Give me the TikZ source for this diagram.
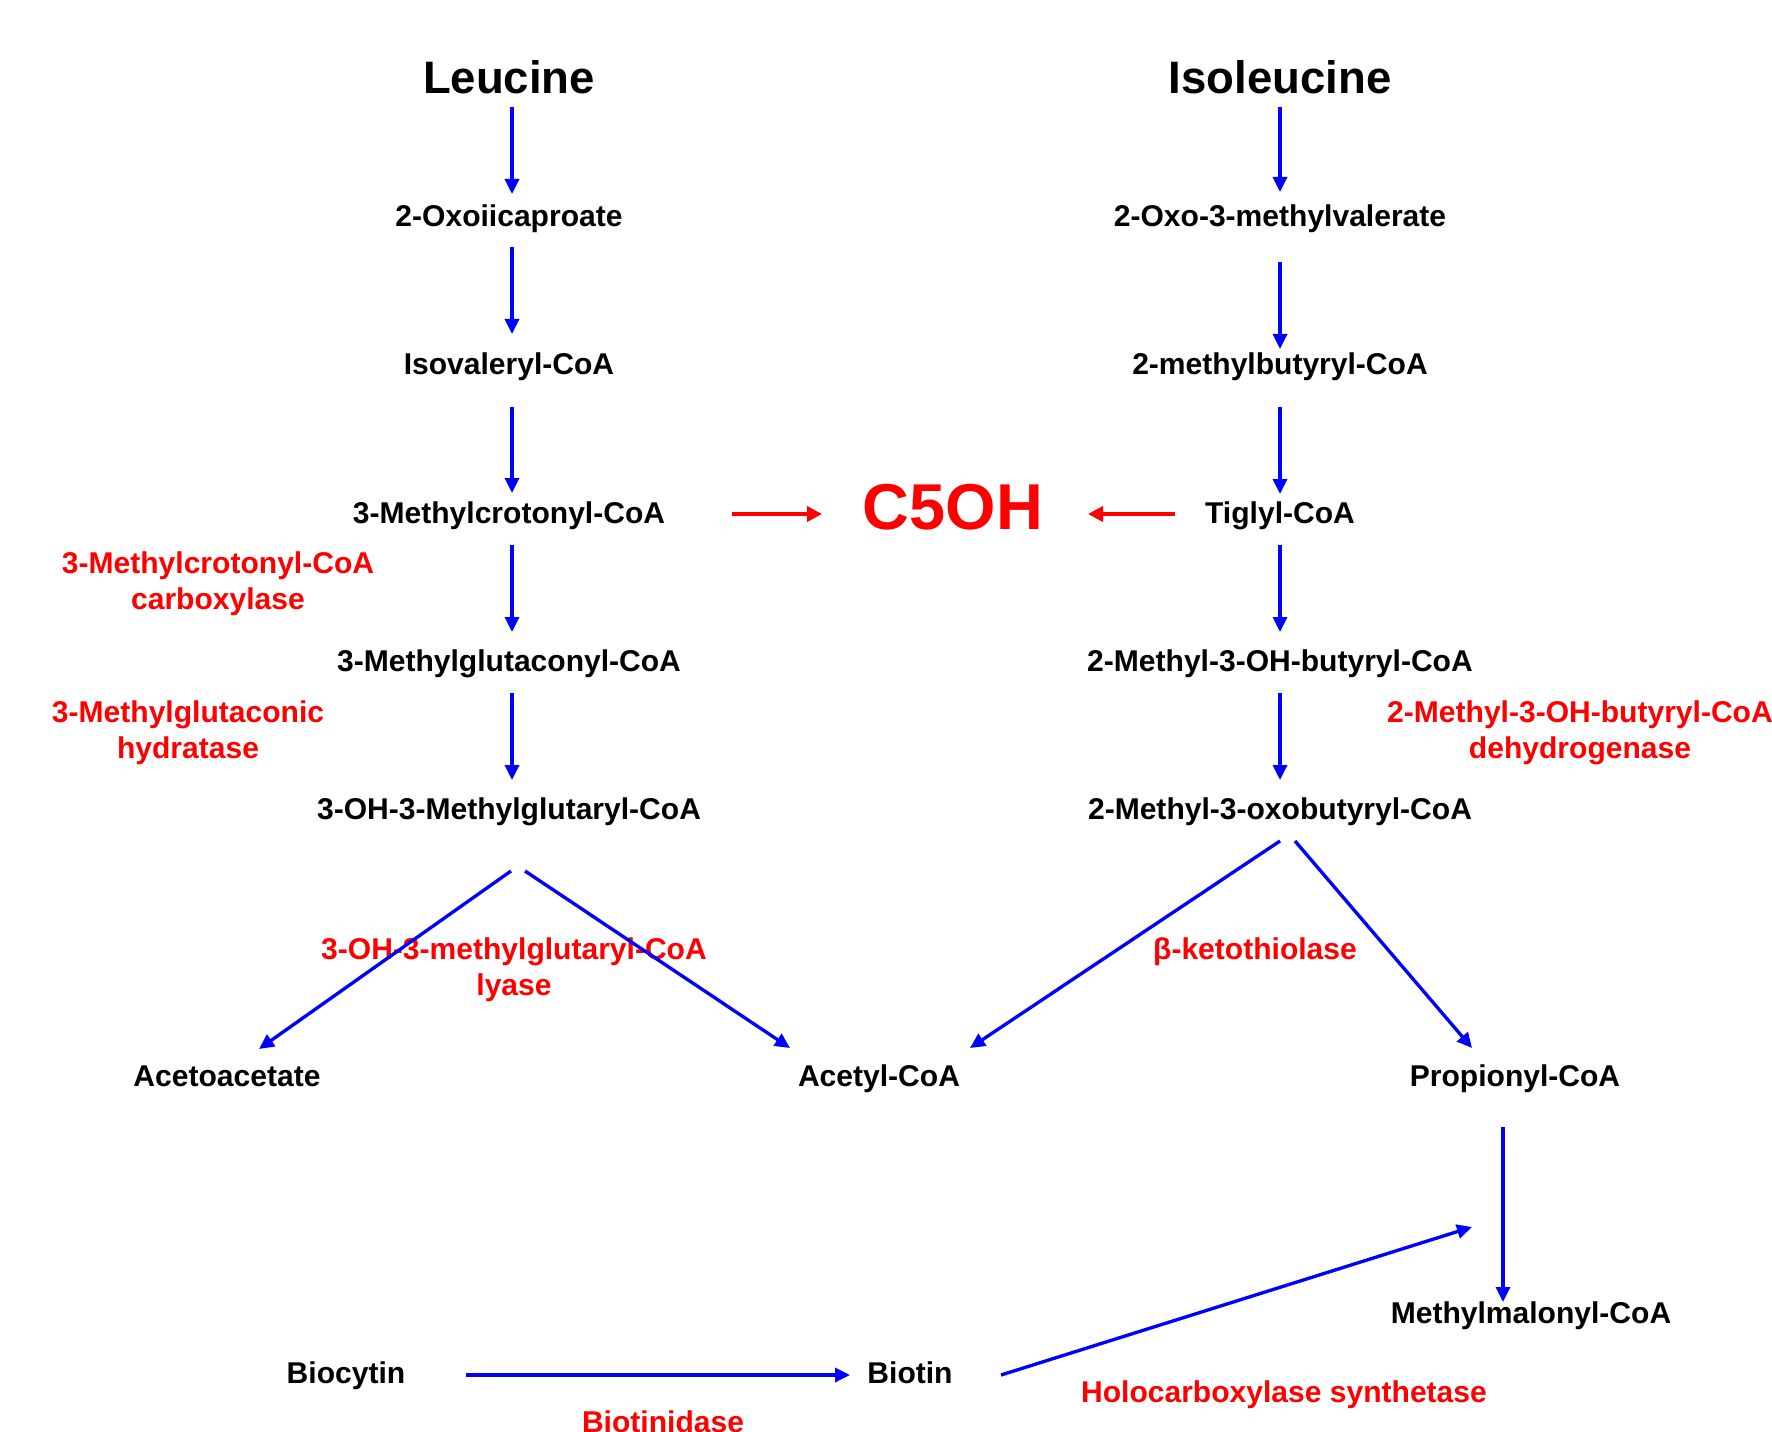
\documentclass[tikz,border=0pt]{standalone}
\usepackage{fontspec}
\setmainfont{Liberation Sans}
\usetikzlibrary{arrows.meta}

\tikzset{
	met/.style={font=\bfseries\fontsize{17.1}{20.5}\selectfont, inner sep=0pt, text height=12.24pt, text depth=0pt},
	enz/.style={font=\bfseries\fontsize{17.1}{20.5}\selectfont, inner sep=0pt, text=red, align=center},
	amino/.style={font=\bfseries\fontsize{25.9}{30}\selectfont, inner sep=0pt, text height=18.5pt, text depth=0pt},
	conv/.style={draw=blue, line width=1.9pt, -{Triangle[length=0.3cm,width=0.28cm]}},
	tored/.style={draw=red, line width=2.1pt, -{Triangle[length=0.3cm,width=0.3cm]}}
}

\begin{document}
\begin{tikzpicture}[x=0.02cm, y=-0.02cm]
		\useasboundingbox (0,0) rectangle (1772,1432);
		% leucine side
		\node[amino] (leu) at (509,77) {Leucine};
		\node[met] (oxo) at (509,216) {2-Oxoiicaproate};
		\node[met] (isov) at (509,364) {Isovaleryl-CoA};
		\node[met] (mcc) at (509,513) {3-Methylcrotonyl-CoA};
		\node[met] (mgc) at (509,661) {3-Methylglutaconyl-CoA};
		\node[met] (hmg) at (509,809) {3-OH-3-Methylglutaryl-CoA};
		% isoleucine side
		\node[amino] (ile) at (1280,77) {Isoleucine};
		\node[met] (oxomv) at (1280,216) {2-Oxo-3-methylvalerate};
		\node[met] (mbut) at (1280,364) {2-methylbutyryl-CoA};
		\node[met] (tig) at (1280,513) {Tiglyl-CoA};
		\node[met] (mhb) at (1280,661) {2-Methyl-3-OH-butyryl-CoA};
		\node[met] (mob) at (1280,809) {2-Methyl-3-oxobutyryl-CoA};
		% products
		\node[met] (aceto) at (227,1076) {Acetoacetate};
		\node[met] (acetyl) at (879,1076) {Acetyl-CoA};
		\node[met] (prop) at (1515,1076) {Propionyl-CoA};
		\node[met] (mmal) at (1531,1313) {Methylmalonyl-CoA};
		\node[met] (biocytin) at (346,1373) {Biocytin};
		\node[met] (biotin) at (910,1373) {Biotin};
		\node[font=\bfseries\fontsize{36.9}{40}\selectfont, text=red, inner sep=0pt, text height=26.4pt, text depth=0pt] (c5oh) at (953,506) {C5OH};
		% enzymes
		\node[enz] (mccase) at (218,584) {3-Methylcrotonyl-CoA\\carboxylase};
		\node[enz] (mgh) at (188,733) {3-Methylglutaconic\\hydratase};
		\node[enz] (mhbd) at (1580,733) {2-Methyl-3-OH-butyryl-CoA\\dehydrogenase};
		\node[enz] (hmgl) at (514,970) {3-OH-3-methylglutaryl-CoA\\lyase};
		\node[enz] (bkt) at (1255,952) {β-ketothiolase};
		\node[enz] (btd) at (663,1422) {Biotinidase};
		\node[enz] (hcs) at (1284,1395) {Holocarboxylase synthetase};

		\draw[conv] ([shift={(3,30)}]leu.center) -- ([shift={(3,-22)}]oxo.center);
		\draw[conv] ([shift={(3,31)}]oxo.center) -- ([shift={(3,-30)}]isov.center);
		\draw[conv] ([shift={(3,43)}]isov.center) -- ([shift={(3,-20)}]mcc.center);
		\draw[conv] ([shift={(3,32)}]mcc.center) -- ([shift={(3,-29)}]mgc.center);
		\draw[conv] ([shift={(3,32)}]mgc.center) -- ([shift={(3,-29)}]hmg.center);

		\draw[conv] ([shift={(0,30)}]ile.center) -- ([shift={(0,-24)}]oxomv.center);
		\draw[conv] ([shift={(0,46)}]oxomv.center) -- ([shift={(0,-15)}]mbut.center);
		\draw[conv] ([shift={(0,43)}]mbut.center) -- ([shift={(0,-19)}]tig.center);
		\draw[conv] ([shift={(0,32)}]tig.center) -- ([shift={(0,-29)}]mhb.center);
		\draw[conv] ([shift={(0,32)}]mhb.center) -- ([shift={(0,-29)}]mob.center);

		\draw[conv] ([shift={(2,62)}]hmg.center) -- ([shift={(32,-27)}]aceto.center);
		\draw[conv] ([shift={(16,62)}]hmg.center) -- ([shift={(-89,-28)}]acetyl.center);
		\draw[conv] ([shift={(0,32)}]mob.center) -- ([shift={(91,-28)}]acetyl.center);
		\draw[conv] ([shift={(15,32)}]mob.center) -- ([shift={(-43,-28)}]prop.center);
		\draw[conv] ([shift={(-12,51)}]prop.center) -- ([shift={(-28,-11)}]mmal.center);
		\draw[conv] ([shift={(120,2)}]biocytin.center) -- ([shift={(-60,2)}]biotin.center);
		\coordinate (carb) at (1472,1227);
		\draw[conv] ([shift={(91,2)}]biotin.center) -- (carb);

		\draw[tored] ([shift={(223,1)}]mcc.center) -- ([shift={(-131,8)}]c5oh.center);
		\draw[tored] ([shift={(-105,1)}]tig.center) -- ([shift={(135,8)}]c5oh.center);
	\end{tikzpicture}
\end{document}
